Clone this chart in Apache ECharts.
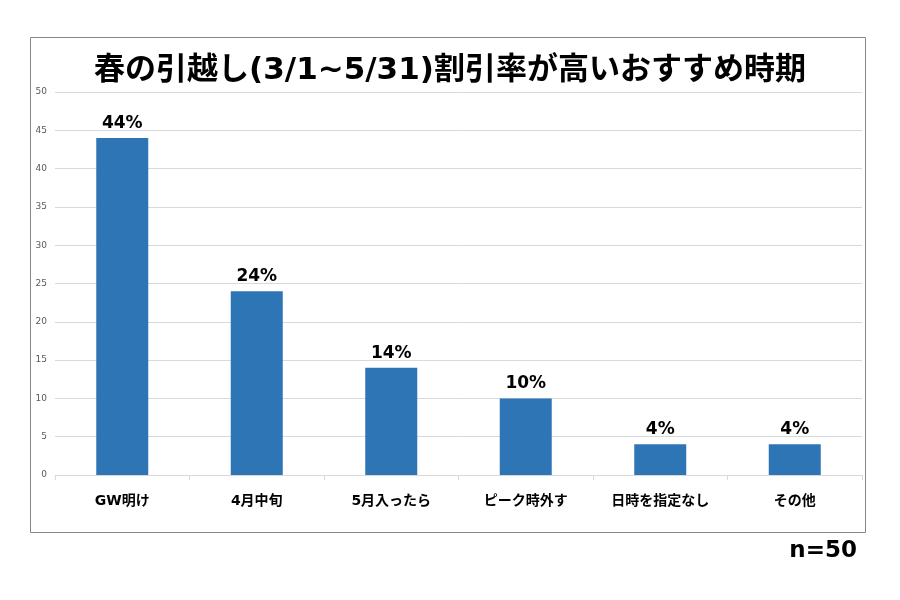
<!DOCTYPE html>
<html><head><meta charset="utf-8">
<script src="https://cdn.jsdelivr.net/npm/echarts@6/dist/echarts.min.js"></script>
<style>html,body{margin:0;padding:0;background:#fff}#c{width:900px;height:600px}</style>
</head><body><div id="c"></div>
<script>
const titleText = '春の引越し(3/1~5/31)割引率が高いおすすめ時期';
const categories = ['GW明け', '4月中旬', '5月入ったら', 'ピーク時外す', '日時を指定なし', 'その他'];
const values = [44, 24, 14, 10, 4, 4];
const noteText = 'n=50';
const FONT = '"DejaVu Sans", "Noto Sans CJK JP", sans-serif';
const chart = echarts.init(document.getElementById('c'));
chart.setOption({
  backgroundColor: '#fff',
  animation: false,
  title: {
    text: titleText, left: 'center', top: 50,
    textStyle: { fontFamily: FONT, fontSize: 31, fontWeight: 'bold', color: '#000' }
  },
  graphic: [
    { type: 'rect', shape: { x: 30.5, y: 37.5, width: 835, height: 495 }, style: { fill: 'none', stroke: '#888', lineWidth: 1 }, z: -1 },
    { type: 'text', right: 43, top: 540, style: { text: noteText, font: 'bold 23px ' + FONT, fill: '#000' } }
  ],
  grid: { left: 55, right: 38, top: 92, bottom: 125, containLabel: false },
  xAxis: {
    type: 'category', data: categories,
    axisLine: { lineStyle: { color: '#d9d9d9' } },
    axisTick: { show: true, length: 5, lineStyle: { color: '#d9d9d9' } },
    axisLabel: { fontFamily: FONT, fontSize: 14, fontWeight: 'bold', color: '#000', margin: 19 }
  },
  yAxis: {
    type: 'value', min: 0, max: 50, interval: 5,
    axisLine: { show: false }, axisTick: { show: false },
    splitLine: { lineStyle: { color: '#d9d9d9' } },
    axisLabel: { fontFamily: FONT, fontSize: 9, color: '#595959', margin: 8 }
  },
  series: [{
    type: 'bar', data: values, barWidth: 52,
    itemStyle: { color: '#2E75B6' },
    label: { show: true, position: 'top', distance: 6, formatter: '{c}%', fontFamily: FONT, fontSize: 17, fontWeight: 'bold', color: '#000' }
  }]
});
</script></body></html>
